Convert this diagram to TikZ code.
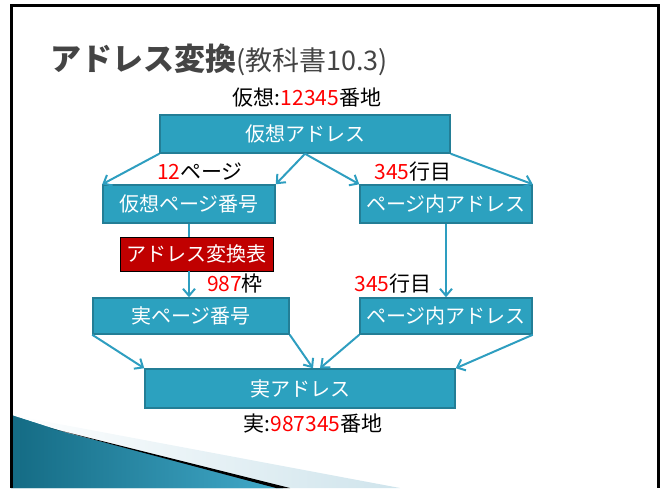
\documentclass[tikz,border=0pt]{standalone}
\usepackage{fontspec}
\setmainfont{Noto Sans CJK JP}
\usetikzlibrary{arrows.meta}
\definecolor{boxteal}{HTML}{2CA1BF}
\definecolor{boxedge}{HTML}{237E96}
\definecolor{arrowteal}{HTML}{2E9EC0}
\definecolor{tablered}{HTML}{C00000}
\definecolor{titlegray}{HTML}{444444}
\definecolor{stripblue}{HTML}{CFE4EC}
\definecolor{wedgedark}{HTML}{146B84}
\definecolor{wedgelight}{HTML}{42AACA}

\begin{document}
\begin{tikzpicture}[x=1pt,y=-1pt]
        \tikzstyle{box_style} = [draw=boxedge, fill=boxteal, line width=1.5, text=white, inner sep=0, font=\fontsize{20}{24}\selectfont]
        \tikzstyle{table_style} = [draw=black, fill=tablered, line width=0.8, text=white, inner sep=0, font=\fontsize{20}{24}\selectfont]
        \tikzstyle{label_style} = [inner sep=0, font=\fontsize{21}{25}\selectfont]
        \tikzstyle{arrow_style1} = [-{Straight Barb[length=7,width=12]}, arrowteal, line width=2]
        \tikzstyle{line_style} = [arrowteal, line width=2]

        \useasboundingbox (0,0) rectangle (666,488);

        % Slide background: the wedge at the bottom left, then the frame
        \shade[left color=white, right color=stripblue] (11,415) -- (400,488) -- (283,488) -- (67,433) -- cycle;
        \fill[wedgedark!70!wedgelight] (11,415) -- (67,433) -- (283,488) -- (11,488) -- cycle;
        \shade[left color=wedgedark, right color=wedgelight] (11,415) -- (67,433) -- (283,488) -- (11,488) -- cycle;
        \fill[black] (50,428) -- (290,488) -- (276,488) -- cycle;
        \draw[line width=3] (11,488) -- (11,5) -- (658,5) -- (658,488);

        % Title
        \node[anchor=west, inner sep=0, text=titlegray] (title) at (50,60)
            {\fontsize{31}{36}\selectfont\bfseries アドレス変換{\fontsize{27}{32}\selectfont\mdseries(教科書10.3)}};

        % The virtual address at the top
        \node[label_style] (l1) at (307,98) {仮想:\textcolor{red}{12345}番地};
        \node[box_style, minimum width=290, minimum height=38] (n1) at (305,134) {仮想アドレス};
        \node[box_style, minimum width=172, minimum height=38] (n2) at (189,204) {仮想ページ番号};
        \node[box_style, minimum width=172, minimum height=38] (n3) at (446,204) {ページ内アドレス};
        \node[label_style] (l2) at (200,172) {\textcolor{red}{12}ページ};
        \node[label_style] (l3) at (413,172) {\textcolor{red}{345}行目};

        \draw[arrow_style1] (n1.south west) -- (n2.north west);
        \draw[arrow_style1] (n1.south) -- (n2.north east);
        \draw[arrow_style1] (n1.south) -- (n3.north west);
        \draw[arrow_style1] (n1.south east) -- (n3.north east);

        % Then the table in the middle
        \node[table_style, minimum width=153, minimum height=34] (n4) at (196.5,254) {アドレス変換表};
        \node[label_style] (l4) at (235,284) {\textcolor{red}{987}枠};
        \node[label_style] (l5) at (393,284) {\textcolor{red}{345}行目};
        \node[box_style, minimum width=196, minimum height=36] (n5) at (191,316) {実ページ番号};
        \node[box_style, minimum width=172, minimum height=36] (n6) at (446,316) {ページ内アドレス};

        \draw[line_style] (n2.south) -- (n2.south |- n4.north);
        \draw[arrow_style1] (n2.south |- n4.south) -- (n2.south |- n5.north);
        \draw[arrow_style1] (n3.south) -- (n6.north);

        % Then the real address at the bottom
        \node[box_style, minimum width=310, minimum height=39] (n7) at (300,388.5) {実アドレス};
        \node[label_style] (l6) at (313,424) {実:\textcolor{red}{987345}番地};

        \draw[arrow_style1] (n5.south west) -- (n7.north west);
        \draw[arrow_style1] (n5.south east) -- ([xshift=13]n7.north);
        \draw[arrow_style1] (n6.south west) -- ([xshift=20]n7.north);
        \draw[arrow_style1] (n6.south east) -- (n7.north east);
    \end{tikzpicture}
\end{document}
